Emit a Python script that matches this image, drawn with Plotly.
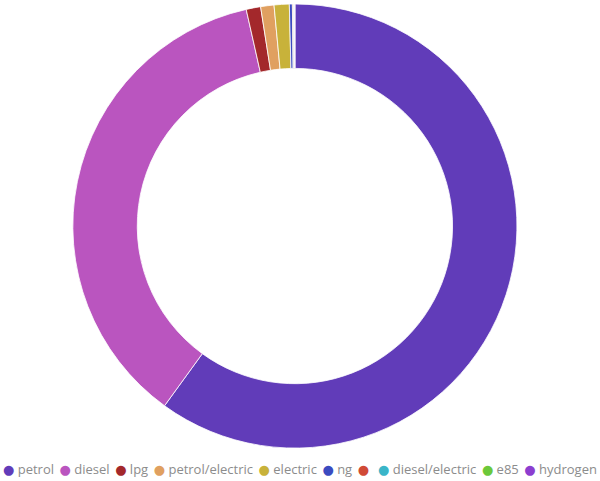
import plotly.graph_objects as go

fuel_types = ["petrol", "diesel", "lpg", "petrol/electric", "electric", "ng", "",
              "diesel/electric", "e85", "hydrogen"]
vehicle_share = [600, 365, 10.5, 9.7, 11, 2.2, 0.8, 0.5, 0.3, 0.2]
fuel_colors = ["#613cb9", "#ba55bf", "#a3282b", "#e0a060", "#c8b23a", "#3b4bc0",
               "#d04a36", "#3ab5c8", "#6cc83a", "#8c3ecf"]

fig = go.Figure(
    go.Pie(
        labels=[f if f else " " for f in fuel_types],
        values=vehicle_share,
        hole=0.71,
        sort=False,
        direction="clockwise",
        rotation=0,
        marker=dict(colors=fuel_colors, line=dict(color="white", width=0.8)),
        textinfo="none",
        showlegend=False,
        domain=dict(x=[0, 0.983], y=[0.069, 1]),
    )
)

# legend drawn as text so the round markers sit tight like the original
nb = "\u00a0"
parts = []
for name, col in zip(fuel_types, fuel_colors):
    parts.append(f"<span style='color:{col}'>●</span>{nb}{name}")
legend_text = (nb + "\u2009").join(parts)

fig.add_annotation(
    text=legend_text,
    x=0.5,
    y=0.025,
    xref="paper",
    yref="paper",
    xanchor="center",
    yanchor="middle",
    showarrow=False,
    font=dict(family="Open Sans, DejaVu Sans", size=13, color="#8c8c8c"),
)

fig.update_layout(
    width=600,
    height=481,
    margin=dict(l=0, r=0, t=4, b=0),
    paper_bgcolor="white",
    plot_bgcolor="white",
)

fig.write_html(
    "out.html",
    config={"displayModeBar": False},
    post_script="document.body.style.margin='0';",
)
